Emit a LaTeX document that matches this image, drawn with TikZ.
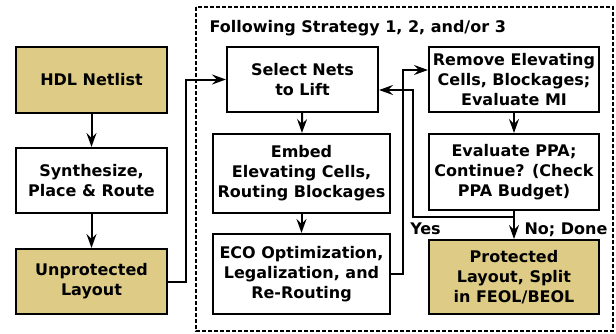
\documentclass[tikz,border=0pt]{standalone}
\usepackage{fontspec}
\setmainfont{DejaVu Sans}
\usetikzlibrary{arrows.meta,calc}
\definecolor{tan}{RGB}{222,204,134}
\begin{document}
\begin{tikzpicture}[x=1pt,y=-1pt,
  font=\fontsize{16}{20}\selectfont\bfseries,
  box/.style={draw,line width=2.1pt,align=center,inner sep=0pt},
  tanbox/.style={box,fill=tan},
  conn/.style={line width=2pt},
  arr/.style={conn,-{Stealth[length=14pt,width=10pt,inset=5pt]}}]
\useasboundingbox (0,0) rectangle (616,333);
\draw[line width=1.4pt,dash pattern=on 4pt off 2pt] (196,7) rectangle (613,331);
\node[anchor=base west] (title) at (206,32) {Following Strategy 1, 2, and/or 3};
% left column
\node[tanbox,minimum width=151pt,minimum height=66pt] (hdl) at (91.5,80) {HDL Netlist};
\node[box,minimum width=151pt,minimum height=65pt] (syn) at (91.5,180.5) {Synthesize,\\Place \& Route};
\node[tanbox,minimum width=151pt,minimum height=65pt] (unp) at (91.5,281.5) {Unprotected\\Layout};
% middle column
\node[box,minimum width=151pt,minimum height=65pt] (sel) at (302.5,79.5) {Select Nets\\to Lift};
\node[box,minimum width=177pt,minimum height=79pt] (emb) at (301.5,173.5) {Embed\\Elevating Cells,\\Routing Blockages};
\node[box,minimum width=177pt,minimum height=80pt] (eco) at (301.5,274) {ECO Optimization,\\Legalization, and\\Re-Routing};
% right column
\node[box,minimum width=170pt,minimum height=65pt] (rem) at (514,79.5) {Remove Elevating\\Cells, Blockages;\\Evaluate MI};
\node[box,minimum width=170pt,minimum height=76pt] (eva) at (514,172) {Evaluate PPA;\\Continue? (Check\\PPA Budget)};
\node[tanbox,minimum width=170pt,minimum height=74pt] (pro) at (514,277) {Protected\\Layout, Split\\in FEOL/BEOL};
% connectors
\draw[arr] (hdl) -- (syn);
\draw[arr] (syn) -- (unp);
\draw[arr] (unp.east) -- ++(18,0) |- (sel.west);
\draw[arr] (sel) -- (emb);
\draw[arr] (emb) -- (eco);
\draw[arr] (eco.east) -- ++(12,0) |- ([yshift=9.5pt]rem.west);
\draw[arr] (rem) -- (eva);
\draw[arr] (eva) -- (pro);
\coordinate (split) at ($(eva.south)+(0,6)$);
\draw[arr] (split) -| (413,90) -- ([yshift=-10.5pt]sel.east);
\node[anchor=base] (yes) at (425.5,234) {Yes};
\node[anchor=base west] (no) at (521,234) {No; Done};
\end{tikzpicture}
\end{document}
